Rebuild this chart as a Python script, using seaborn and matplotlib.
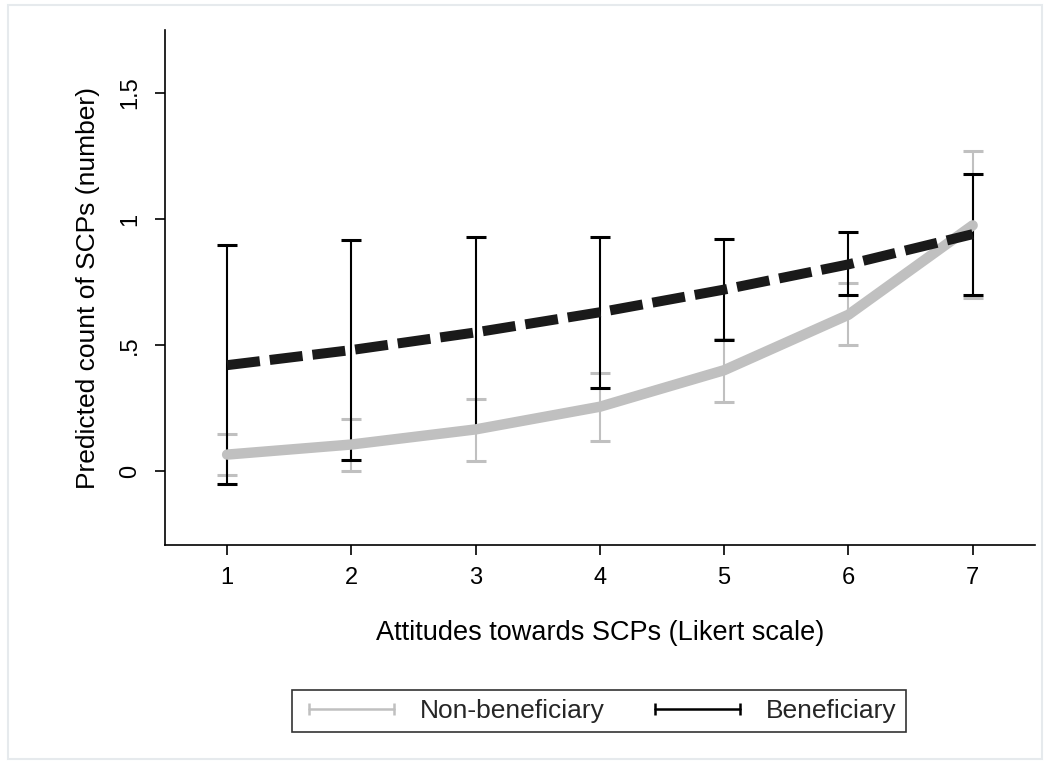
import matplotlib
matplotlib.use("Agg")
import matplotlib.pyplot as plt
import seaborn as sns
import pandas as pd
from matplotlib.lines import Line2D
from matplotlib.patches import Rectangle

# data
likert = [1, 2, 3, 4, 5, 6, 7]
nonben_mean = [0.065, 0.105, 0.165, 0.255, 0.40, 0.62, 0.975]
nonben_lo = [-0.016, 0.0, 0.04, 0.12, 0.274, 0.50, 0.686]
nonben_hi = [0.147, 0.205, 0.286, 0.39, 0.525, 0.745, 1.27]
ben_mean = [0.42, 0.48, 0.55, 0.63, 0.72, 0.82, 0.94]
ben_lo = [-0.05, 0.044, 0.17, 0.33, 0.52, 0.70, 0.70]
ben_hi = [0.897, 0.917, 0.93, 0.93, 0.92, 0.95, 1.18]

df = pd.DataFrame({
    "likert": likert * 2,
    "pred": nonben_mean + ben_mean,
    "group": ["Non-beneficiary"] * 7 + ["Beneficiary"] * 7,
})

sns.set_style("ticks")
plt.rcParams["font.family"] = ["Liberation Sans", "DejaVu Sans"]

grey = "#c0c0c0"
black = "#1a1a1a"

fig = plt.figure(figsize=(10.48, 7.64), dpi=100)
ax = fig.add_axes([0.1574, 0.2866, 0.830, 0.674])

# error bars first, grey under black
ax.errorbar(likert, nonben_mean,
            yerr=[[m - l for m, l in zip(nonben_mean, nonben_lo)],
                  [h - m for m, h in zip(nonben_mean, nonben_hi)]],
            fmt="none", ecolor=grey, elinewidth=1.5, capsize=7, capthick=2.2, zorder=2)
ax.errorbar(likert, ben_mean,
            yerr=[[m - l for m, l in zip(ben_mean, ben_lo)],
                  [h - m for m, h in zip(ben_mean, ben_hi)]],
            fmt="none", ecolor="black", elinewidth=1.5, capsize=7, capthick=2.2, zorder=3)

sns.lineplot(data=df[df.group == "Non-beneficiary"], x="likert", y="pred", ax=ax,
             color=grey, lw=7.5, solid_capstyle="round", legend=False, zorder=4)
sns.lineplot(data=df[df.group == "Beneficiary"], x="likert", y="pred", ax=ax,
             color=black, lw=7.2, legend=False, zorder=5)
ax.lines[-1].set_dashes((3.3, 1.0))
ax.lines[-1].set_dash_capstyle("butt")

ax.set_xlim(0.5, 7.5)
ax.set_ylim(-0.294, 1.75)
ax.set_xticks(likert)
ax.set_yticks([0, 0.5, 1, 1.5])
ax.set_yticklabels(["0", ".5", "1", "1.5"], rotation=90, va="center")
ax.tick_params(axis="both", length=7, width=1.2, labelsize=17, color="black", labelcolor="black")
ax.tick_params(axis="y", pad=10)
ax.tick_params(axis="x", pad=9)
for s in ["top", "right"]:
    ax.spines[s].set_visible(False)
for s in ["left", "bottom"]:
    ax.spines[s].set_linewidth(1.2)
    ax.spines[s].set_color("black")

ax.set_xlabel("Attitudes towards SCPs (Likert scale)", fontsize=19.5, labelpad=22, color="black")
ax.set_ylabel("Predicted count of SCPs (number)", fontsize=19, labelpad=14, color="black")

handles = [
    Line2D([], [], color=grey, lw=1.8, marker="|", markersize=9, mew=1.8),
    Line2D([], [], color="black", lw=1.8, marker="|", markersize=9, mew=1.8),
]
leg = fig.legend(handles, ["Non-beneficiary", "Beneficiary"], loc="center",
                 bbox_to_anchor=(0.5716, 0.0694), ncol=2, numpoints=2, fontsize=19,
                 frameon=True, fancybox=False, edgecolor="black", handlelength=3.8,
                 handletextpad=0.7, columnspacing=1.6, borderpad=0.35)
leg.get_frame().set_linewidth(1.2)

# light outer frame of the graph region
fig.patches.append(Rectangle((0.008, 0.006), 0.986, 0.988, transform=fig.transFigure,
                             fill=False, edgecolor="#e6eaed", lw=1.5))

fig.savefig("out.png", dpi=100)
